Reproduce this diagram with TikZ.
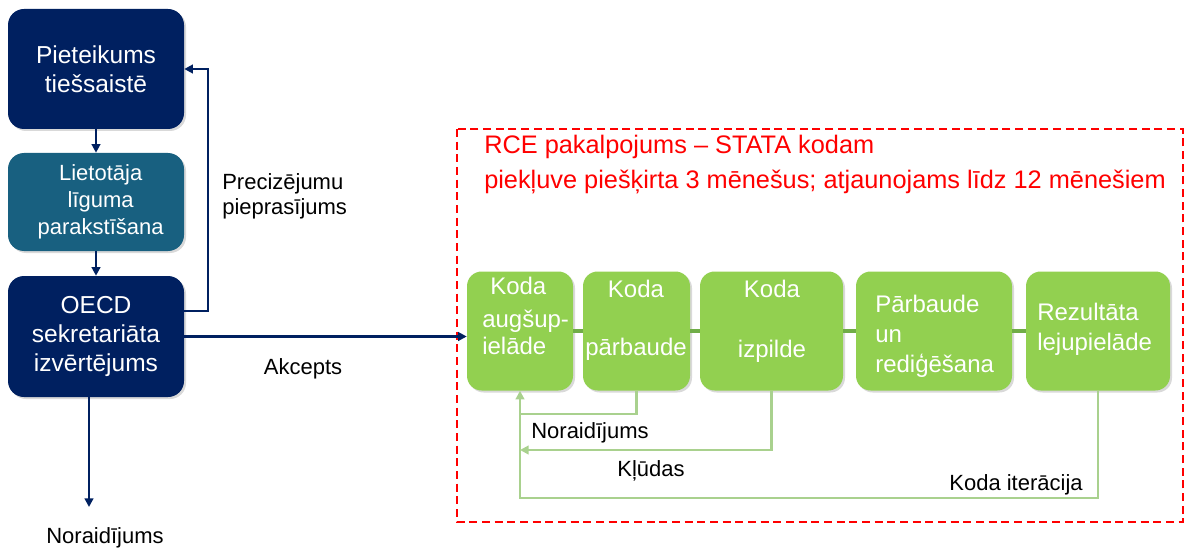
\documentclass[tikz,border=0pt]{standalone}
\usepackage{fontspec}
\setmainfont{Liberation Sans}
\usepackage{xcolor}
\usetikzlibrary{arrows.meta, positioning, shadows}

\definecolor{oecdNavy}{RGB}{0,32,96}
\definecolor{oecdTeal}{RGB}{24,96,128}
\definecolor{boxGreen}{RGB}{146,208,80}
\definecolor{linkGreen}{RGB}{112,173,71}
\definecolor{loopGreen}{RGB}{169,209,142}
\definecolor{rceRed}{RGB}{255,0,0}

\tikzset{
    leftbox/.style={rounded corners=12pt, text=white, align=center, minimum width=132pt, inner sep=0pt,
        drop shadow={opacity=0.3, shadow xshift=1.5pt, shadow yshift=-1.5pt}},
    darkbox/.style={leftbox, fill=oecdNavy, font=\fontsize{18.4pt}{22pt}\selectfont},
    tealbox/.style={leftbox, fill=oecdTeal, font=\fontsize{16.5pt}{20.25pt}\selectfont},
    greenbox/.style={rounded corners=11pt, fill=boxGreen, minimum height=89.25pt, inner sep=0pt,
        drop shadow={opacity=0.3, shadow xshift=1.5pt, shadow yshift=-1.5pt}},
    gtxt/.style={text=white, inner sep=0pt, font=\fontsize{18pt}{20.25pt}\selectfont},
    lbl/.style={inner sep=0pt, font=\fontsize{16.5pt}{18.75pt}\selectfont},
    rcetxt/.style={inner sep=0pt, text=rceRed, font=\fontsize{19pt}{23pt}\selectfont},
    navyline/.style={draw=oecdNavy, line width=2.2pt},
    glink/.style={draw=linkGreen, line width=3pt},
    gloop/.style={draw=loopGreen, line width=2pt},
    rcebox/.style={draw=rceRed, line width=1.1pt, dash pattern=on 6pt off 3.5pt}
}

\begin{document}
\begin{tikzpicture}[x=0.75pt, y=-0.75pt, >={Triangle[length=6.5pt,width=6.5pt]}]
                        \useasboundingbox (0,0) rectangle (1184,549);
                        \node[darkbox, minimum height=90pt] (pieteikums) at (96,69) {Pieteikums\\tiešsaistē};
                        \node[tealbox, minimum height=73.5pt] (ligums) at (96,202) {\hspace*{7pt}Lietotāja\\\hspace*{7pt}līguma\\\hspace*{7pt}parakstīšana};
                        \node[darkbox, minimum height=90.75pt] (izvert) at (96,336.5) {OECD\\sekretariāta\\izvērtējums};
                        \coordinate (precizet) at (208,69);
                        \coordinate (noraidit) at (89,507);
                        \node[lbl, anchor=north west, align=left] (precizTxt) at (222,173) {Precizējumu\\pieprasījums};
                        \node[lbl, anchor=base] (akceptsTxt) at (303,374) {Akcepts};
                        \node[lbl, anchor=base] (noraidTxt) at (105,543) {Noraidījums};
                        \draw[rcebox] (457,129) rectangle (1183,522);
                        \node[rcetxt, anchor=base west] (rceTitle) at (484,153) {RCE pakalpojums – STATA kodam};
                        \node[rcetxt, anchor=base west] (rceNote) at (484,188) {piekļuve piešķirta 3 mēnešus; atjaunojams līdz 12 mēnešiem};
                        \node[greenbox, minimum width=79.5pt] (upload) at (520,331) {};
                        \node[greenbox, minimum width=80.25pt] (check) at (636.5,331) {};
                        \node[greenbox, minimum width=107.25pt] (run) at (771.5,331) {};
                        \node[greenbox, minimum width=117pt] (review) at (934,331) {};
                        \node[greenbox, minimum width=108pt] (download) at (1098,331) {};
                        \node[gtxt, anchor=north west, align=left] (uploadTxt) at (482,276.5) {\hspace*{6pt}Koda\\[4.5pt]augšup-\\ielāde};
                        \node[gtxt, anchor=north, align=center] (checkTxt) at (636,279.5) {Koda\\[23.25pt]pārbaude};
                        \node[gtxt, anchor=north, align=center] (runTxt) at (772,279.5) {Koda\\[24.75pt]izpilde};
                        \node[gtxt, anchor=north west, align=left] (reviewTxt) at (875,294.5) {Pārbaude\\[2.25pt]un\\[2.25pt]rediģēšana};
                        \node[gtxt, anchor=north west, align=left] (downloadTxt) at (1037,302.5) {Rezultāta\\[2.25pt]lejupielāde};
                        \node[lbl, anchor=base] (noraidGreen) at (590,438) {Noraidījums};
                        \node[lbl, anchor=base] (kludas) at (651,476) {Kļūdas};
                        \node[lbl, anchor=base] (iteracija) at (1016,490) {Koda iterācija};
                        \draw[navyline, ->] (pieteikums) -- (ligums);
                        \draw[navyline, ->] (ligums) -- (izvert);
                        \draw[navyline, ->] (izvert.east |- 0,311) -| (precizet) -- (pieteikums.east);
                        \draw[navyline, ->] (izvert.east) -- (izvert.east -| upload.west);
                        \draw[navyline, ->] (izvert.south -| noraidit) -- (noraidit);
                        \draw[glink]
                        (upload) -- (check)
                        (check) -- (run)
                        (run) -- (review)
                        (review) -- (download);
                        \draw[gloop] (check.south) |- (upload.south |- 0,414);
                        \draw[gloop, ->] (run.south) |- (upload.south |- 0,450);
                        \draw[gloop, ->] (download.south) |- (upload.south |- 0,498) -- (upload.south);
                    \end{tikzpicture}
\end{document}
